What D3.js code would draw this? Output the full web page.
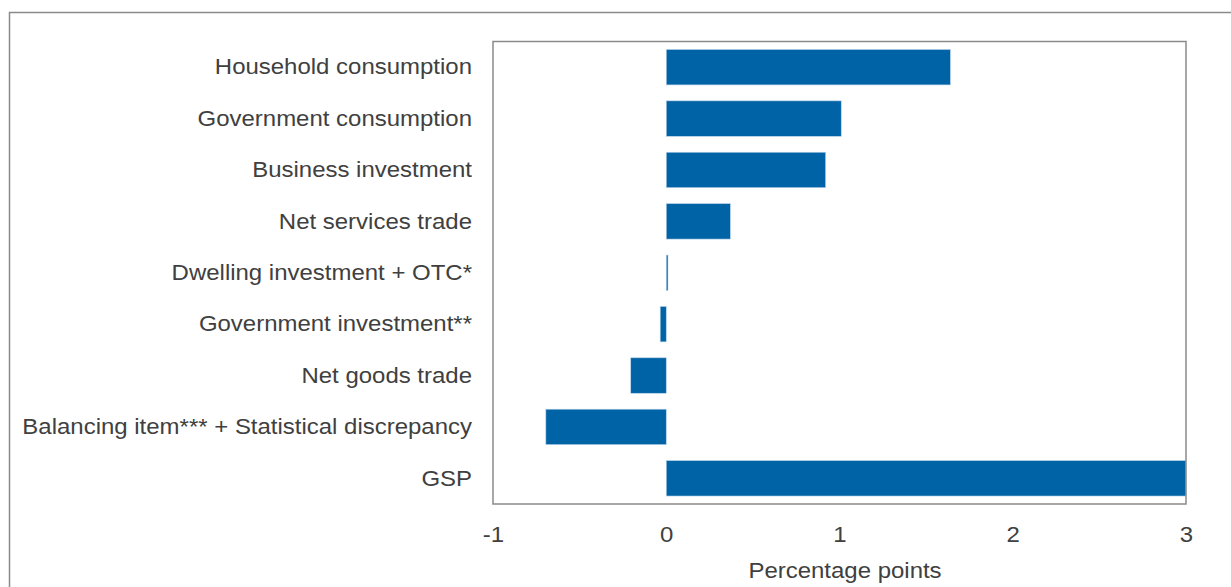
<!DOCTYPE html>
<html>
<head>
<meta charset="utf-8">
<script src="https://cdn.jsdelivr.net/npm/d3@7"></script>
<style>
  body { margin: 0; background: #fff; }
  text { font-family: "Liberation Sans", Arial, sans-serif; }
</style>
</head>
<body>
<div id="container"></div>
<script>
let w = 1231;
let h = 587;

// data
let categories = ["Household consumption", "Government consumption", "Business investment",
  "Net services trade", "Dwelling investment + OTC*", "Government investment**",
  "Net goods trade", "Balancing item*** + Statistical discrepancy", "GSP"];
let values = [1.64, 1.01, 0.92, 0.37, 0.01, -0.035, -0.205, -0.695, 3.0];
let xTicks = [-1, 0, 1, 2, 3];
let xTitle = "Percentage points";

let plotLeft = 493, plotRight = 1186, plotTop = 41.5, plotBottom = 504;
let fontSize = 22;
let stretch = "scale(1.09,1)"; // the original text is a bit wide

let viz = d3.select("#container").append("svg")
  .attr("width", w)
  .attr("height", h);

// outer frame (runs off the right and bottom)
viz.append("rect")
  .attr("x", 9.5).attr("y", 12.5)
  .attr("width", w + 20).attr("height", h + 20)
  .attr("fill", "none").attr("stroke", "#8a8a8a").attr("stroke-width", 1.5);

let xScale = d3.scaleLinear().domain([-1, 3]).range([plotLeft, plotRight]);
let yScale = d3.scaleBand().domain(categories).range([plotTop, plotBottom])
  .paddingInner(0.31).paddingOuter(0.155);

let data = categories.map((c, i) => ({ name: c, value: values[i] }));

viz.selectAll(".bar").data(data).enter().append("rect")
  .attr("class", "bar")
  .attr("x", d => xScale(Math.min(0, d.value)))
  .attr("y", d => yScale(d.name))
  .attr("width", d => Math.max(1.2, Math.abs(xScale(d.value) - xScale(0))))
  .attr("height", yScale.bandwidth())
  .attr("fill", "#0063a6")
  .attr("stroke", "#bcd4ea").attr("stroke-width", 0.6);

// plot frame
viz.append("rect")
  .attr("x", plotLeft).attr("y", plotTop)
  .attr("width", plotRight - plotLeft).attr("height", plotBottom - plotTop)
  .attr("fill", "none").attr("stroke", "#8a8a8a").attr("stroke-width", 1.5);

// category labels
viz.selectAll(".cat").data(data).enter().append("g")
  .attr("class", "cat")
  .attr("transform", d => "translate(472," + (yScale(d.name) + yScale.bandwidth() / 2) + ") " + stretch)
  .append("text")
  .attr("dy", "0.33em")
  .attr("text-anchor", "end")
  .attr("font-size", fontSize)
  .attr("fill", "#404040")
  .text(d => d.name);

// x axis
let xAxis = d3.axisBottom(xScale).tickValues(xTicks).tickSize(0).tickPadding(22)
  .tickFormat(d => d < 0 ? "-" + Math.abs(d) : String(d));
let xAxisGroup = viz.append("g").attr("transform", "translate(0," + plotBottom + ")").call(xAxis);
xAxisGroup.select(".domain").remove();
xAxisGroup.selectAll("text")
  .attr("font-size", fontSize)
  .attr("fill", "#404040")
  .attr("transform", stretch)
  .style("font-family", "'Liberation Sans', Arial, sans-serif");

viz.append("g")
  .attr("transform", "translate(845,578) " + stretch)
  .append("text")
  .attr("text-anchor", "middle")
  .attr("font-size", fontSize)
  .attr("fill", "#404040")
  .text(xTitle);
</script>
</body>
</html>
